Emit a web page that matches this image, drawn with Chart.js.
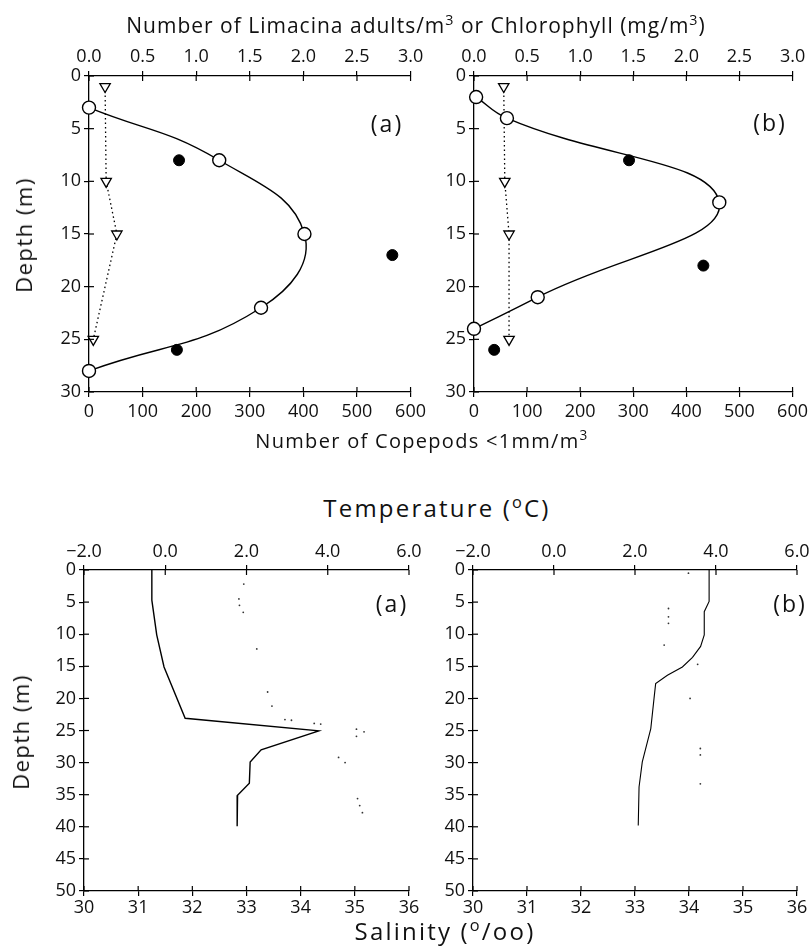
<!DOCTYPE html>
<html>
<head>
<meta charset="utf-8">
<script src="https://cdn.jsdelivr.net/npm/chart.js@4.4.1/dist/chart.umd.min.js"></script>
<style>
  body { margin: 0; background: #fff; }
  #page { position: relative; width: 812px; height: 951px; overflow: hidden; font-family: 'Open Sans', sans-serif; color: #111; }
  canvas { position: absolute; }
  .lbl { position: absolute; transform: translate(-50%, -50%); white-space: nowrap; }
  .lbl sup { font-size: 0.68em; vertical-align: 0.55em; line-height: 0; }
  .title { font-size: 21px; letter-spacing: 1px; }
  .cop { font-size: 20px; letter-spacing: 1.3px; }
  .big { font-size: 24px; letter-spacing: 2.2px; }
  .vert { position: absolute; transform: translate(-50%, -50%) rotate(-90deg); white-space: nowrap; font-size: 22px; letter-spacing: 1.5px; }
  .panel { font-size: 23px; letter-spacing: 2px; }
</style>
</head>
<body>
<div id="page">
  <canvas id="topA" width="430" height="420" style="left:0;top:30px"></canvas>
  <canvas id="topB" width="382" height="420" style="left:430px;top:30px"></canvas>
  <canvas id="botA" width="430" height="421" style="left:0;top:530px"></canvas>
  <canvas id="botB" width="382" height="421" style="left:430px;top:530px"></canvas>

  <div class="lbl title" style="left:416px;top:25px">Number of Limacina adults/m<sup>3</sup> or Chlorophyll (mg/m<sup>3</sup>)</div>
  <div class="lbl cop" style="left:422px;top:440px">Number of Copepods &lt;1mm/m<sup>3</sup></div>
  <div class="lbl big" style="left:437px;top:507px">Temperature (<sup>o</sup>C)</div>
  <div class="lbl big" style="left:445px;top:930px">Salinity (<sup>o</sup>/oo)</div>
  <div class="vert" style="left:23px;top:235px">Depth (m)</div>
  <div class="vert" style="left:20px;top:732px">Depth (m)</div>
  <div class="lbl panel" style="left:387px;top:123px">(a)</div>
  <div class="lbl panel" style="left:770px;top:122px">(b)</div>
  <div class="lbl panel" style="left:392px;top:603px">(a)</div>
  <div class="lbl panel" style="left:790px;top:603px">(b)</div>
</div>

<script>
// --- top panels: copepods (open circles), Limacina (filled), chlorophyll (triangles)
const depthCopA = [3, 8, 15, 22, 28];
const copepodsA = [0, 243, 402, 321, 0];
const depthLimA = [8, 17, 26];
const limacinaA = [0.84, 2.83, 0.82];
const depthChlA = [1, 10, 15, 25];
const chlorophyllA = [0.15, 0.16, 0.26, 0.04];

const depthCopB = [2, 4, 12, 21, 24];
const copepodsB = [4, 62, 462, 120, 0];
const depthLimB = [8, 18, 26];
const limacinaB = [1.46, 2.16, 0.19];
const depthChlB = [1, 10, 15, 25];
const chlorophyllB = [0.28, 0.29, 0.33, 0.33];

// --- bottom panels: temperature (solid), salinity (dots)
const depthTempA = [0, 4.7, 10.1, 15.1, 23.1, 25.05, 28, 29.9, 33.2, 35.1, 39.9];
const temperatureA = [-0.33, -0.33, -0.21, -0.03, 0.49, 3.78, 2.36, 2.09, 2.07, 1.78, 1.77];
const depthSalA = [2.2, 4.5, 5.5, 6.6, 12.3, 19.0, 21.2, 23.3, 23.4, 23.9, 24.0, 24.8, 25.2, 25.9, 29.2, 30.0, 35.6, 36.7, 37.8];
const salinityA = [32.95, 32.86, 32.87, 32.94, 33.19, 33.39, 33.47, 33.71, 33.83, 34.25, 34.37, 35.03, 35.17, 35.03, 34.70, 34.82, 35.05, 35.09, 35.14];

const depthTempB = [0, 4.9, 6.5, 10.1, 11.9, 13.6, 15.1, 16.4, 17.7, 20, 24.7, 29.9, 33.8, 39.8];
const temperatureB = [3.83, 3.83, 3.71, 3.71, 3.62, 3.42, 3.17, 2.80, 2.51, 2.47, 2.39, 2.18, 2.10, 2.08];
const depthSalB = [0.5, 6.0, 7.3, 8.3, 11.7, 14.7, 20.0, 27.8, 28.8, 33.3];
const salinityB = [33.99, 33.62, 33.62, 33.62, 33.54, 34.16, 34.02, 34.21, 34.21, 34.21];

Chart.defaults.font.family = "'Open Sans', sans-serif";
Chart.defaults.font.size = 18;
Chart.defaults.color = '#111';

function pts(xs, ys) {
    return xs.map((x, i) => ({ x: x, y: ys[i] }));
}

function fmt1(v) {
    return v < 0 ? '\u2212' + Math.abs(v).toFixed(1) : v.toFixed(1);
}

// ticks that cross the axis line (inner half)
const innerTicks = {
    id: 'innerTicks',
    afterDraw(chart) {
        const ctx = chart.ctx;
        ctx.save();
        ctx.strokeStyle = '#000';
        ctx.lineWidth = 1.2;
        Object.values(chart.scales).forEach(s => {
            s.ticks.forEach((t, i) => {
                const p = s.getPixelForTick(i);
                ctx.beginPath();
                if (s.position === 'top') { ctx.moveTo(p, s.bottom); ctx.lineTo(p, s.bottom + 5); }
                else if (s.position === 'bottom') { ctx.moveTo(p, s.top); ctx.lineTo(p, s.top - 5); }
                else { ctx.moveTo(s.right, p); ctx.lineTo(s.right + 5, p); }
                ctx.stroke();
            });
        });
        ctx.restore();
    }
};

function axisStyle(extra) {
    return Object.assign({
        type: 'linear',
        grid: { drawOnChartArea: false, tickLength: 5, color: '#000', lineWidth: 1.2 },
        border: { color: '#000', width: 1.3 }
    }, extra);
}

function makePanel(id, cfg) {
    new Chart(document.getElementById(id), {
        type: 'scatter',
        data: { datasets: cfg.datasets },
        options: {
            responsive: false,
            animation: false,
            layout: { padding: { left: 0, top: 0, bottom: 0, right: cfg.padRight } },
            plugins: { legend: { display: false }, tooltip: { enabled: false } },
            scales: {
                x: axisStyle({
                    position: 'bottom', min: cfg.xMin, max: cfg.xMax,
                    ticks: { stepSize: cfg.xStep, padding: cfg.bottomPad, maxRotation: 0, autoSkip: false },
                    afterFit: s => { s.height = cfg.bottomH; }
                }),
                xTop: axisStyle({
                    position: 'top', min: cfg.tMin, max: cfg.tMax,
                    ticks: { stepSize: cfg.tStep, padding: cfg.topPad, maxRotation: 0, autoSkip: false, callback: cfg.tLabel },
                    afterFit: s => { s.height = cfg.topH; }
                }),
                y: axisStyle({
                    position: 'left', reverse: true, min: 0, max: cfg.yMax,
                    ticks: { stepSize: 5, padding: 3 },
                    afterFit: s => { s.width = cfg.yW; }
                })
            }
        },
        plugins: [innerTicks]
    });
}

function topDatasets(depCop, cop, depLim, lim, depChl, chl) {
    return [
        { data: pts(cop, depCop), xAxisID: 'x', showLine: true, tension: 0.45, clip: false,
          borderColor: '#000', borderWidth: 1.4, pointStyle: 'circle', pointRadius: 6.5,
          pointBackgroundColor: '#fff', pointBorderColor: '#000', pointBorderWidth: 1.4 },
        { data: pts(lim, depLim), xAxisID: 'xTop', showLine: false, clip: false,
          pointStyle: 'circle', pointRadius: 5.5, pointBackgroundColor: '#000', pointBorderColor: '#000' },
        { data: pts(chl, depChl), xAxisID: 'xTop', showLine: true, clip: false,
          borderColor: '#000', borderWidth: 1.3, borderDash: [1.5, 3],
          pointStyle: 'triangle', rotation: 180, pointRadius: 6,
          pointBackgroundColor: '#fff', pointBorderColor: '#000', pointBorderWidth: 1.3 }
    ];
}

function botDatasets(depT, temp, depS, sal, w) {
    return [
        { data: pts(temp, depT), xAxisID: 'xTop', showLine: true, tension: 0,
          borderColor: '#000', borderWidth: w, pointRadius: 0 },
        { data: pts(sal, depS), xAxisID: 'x', showLine: false,
          pointStyle: 'circle', pointRadius: 0.9, pointBorderWidth: 0,
          pointBackgroundColor: '#333' }
    ];
}

const topCommon = {
    xMin: 0, xMax: 600, xStep: 100, tMin: 0, tMax: 3, tStep: 0.5,
    tLabel: v => v.toFixed(1), yMax: 30, topH: 46, bottomH: 58, topPad: 3, bottomPad: 4
};
const botCommon = {
    xMin: 30, xMax: 36, xStep: 1, tMin: -2, tMax: 6, tStep: 1,
    tLabel: v => (Math.round(v) % 2 === 0 ? fmt1(v) : null),
    yMax: 50, topH: 40, bottomH: 60, topPad: 2, bottomPad: 1
};

makePanel('topA', Object.assign({}, topCommon, { yW: 89, padRight: 18,
    datasets: topDatasets(depthCopA, copepodsA, depthLimA, limacinaA, depthChlA, chlorophyllA) }));
makePanel('topB', Object.assign({}, topCommon, { yW: 44, padRight: 17,
    datasets: topDatasets(depthCopB, copepodsB, depthLimB, limacinaB, depthChlB, chlorophyllB) }));
makePanel('botA', Object.assign({}, botCommon, { yW: 84, padRight: 21,
    datasets: botDatasets(depthTempA, temperatureA, depthSalA, salinityA, 1.4) }));
makePanel('botB', Object.assign({}, botCommon, { yW: 43, padRight: 15,
    datasets: botDatasets(depthTempB, temperatureB, depthSalB, salinityB, 1.1) }));
</script>
</body>
</html>
